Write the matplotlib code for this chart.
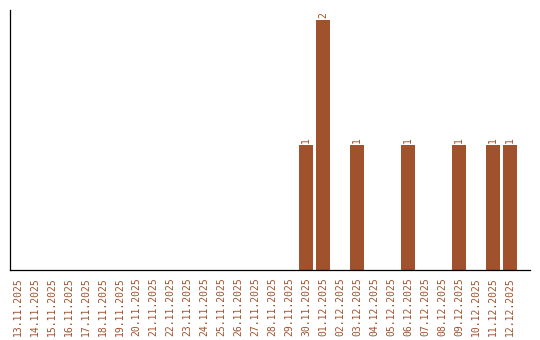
import matplotlib
matplotlib.use("Agg")
import matplotlib.pyplot as plt

# data
dates = ["13.11.2025", "14.11.2025", "15.11.2025", "16.11.2025", "17.11.2025",
         "18.11.2025", "19.11.2025", "20.11.2025", "21.11.2025", "22.11.2025",
         "23.11.2025", "24.11.2025", "25.11.2025", "26.11.2025", "27.11.2025",
         "28.11.2025", "29.11.2025", "30.11.2025", "01.12.2025", "02.12.2025",
         "03.12.2025", "04.12.2025", "05.12.2025", "06.12.2025", "07.12.2025",
         "08.12.2025", "09.12.2025", "10.12.2025", "11.12.2025", "12.12.2025"]
counts = [0, 0, 0, 0, 0, 0, 0, 0, 0, 0,
          0, 0, 0, 0, 0, 0, 0, 1, 2, 0,
          1, 0, 0, 1, 0, 0, 1, 0, 1, 1]

color = "#A0522D"
mono = "DejaVu Sans Mono"

fig = plt.figure(figsize=(5.4, 3.4), dpi=100)
ax = fig.add_axes([10 / 540, 70 / 340, 520 / 540, 260 / 340])

x = list(range(len(dates)))
bars = ax.bar(x, counts, width=0.82, color=color)

# value labels above non-empty bars
for xi, v in zip(x, counts):
    if v > 0:
        ax.annotate(str(v), (xi, v), xytext=(0, 1.5), textcoords="offset points",
                    ha="center", va="bottom", rotation=90,
                    fontsize=7, family=mono, color=color)

ax.set_xlim(-0.44, len(dates) - 1 + 1.18)
ax.set_ylim(0, 2.08)
ax.set_xticks(x)
ax.set_xticklabels(dates, rotation=90, fontsize=7, family=mono, color=color)
ax.tick_params(axis="x", length=0, pad=5)
ax.set_yticks([])

for side in ["top", "right"]:
    ax.spines[side].set_visible(False)
for side in ["left", "bottom"]:
    ax.spines[side].set_linewidth(0.9)

fig.savefig("out.png", dpi=100)
